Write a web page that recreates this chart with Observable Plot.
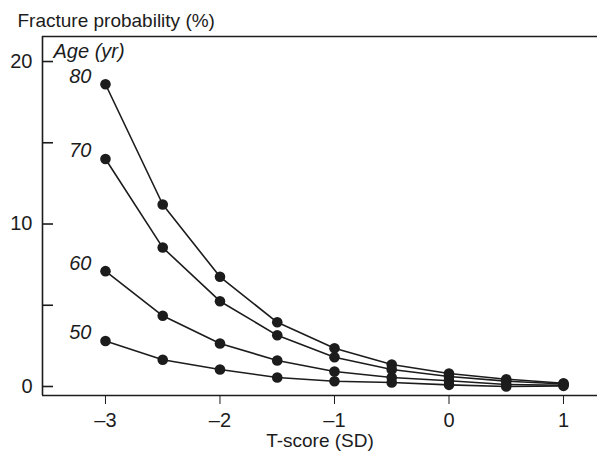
<!DOCTYPE html>
<html>
<head>
<meta charset="utf-8">
<script src="https://cdn.jsdelivr.net/npm/d3@7"></script>
<script src="https://cdn.jsdelivr.net/npm/@observablehq/plot@0.6"></script>
<style>
  html, body { margin: 0; padding: 0; background: #fff; }
</style>
</head>
<body>
<div id="chart"></div>
<script>
// T-score (SD) values
const tScores = [-3, -2.5, -2, -1.5, -1, -0.5, 0, 0.5, 1];
// Fracture probability (%) by age group
const ages = ["80", "70", "60", "50"];
const age80 = [18.6, 11.2, 6.75, 3.95, 2.35, 1.35, 0.8, 0.45, 0.2];
const age70 = [14.0, 8.55, 5.25, 3.15, 1.8, 1.05, 0.62, 0.33, 0.15];
const age60 = [7.1, 4.35, 2.65, 1.6, 0.92, 0.55, 0.35, 0.12, 0.08];
const age50 = [2.8, 1.65, 1.05, 0.55, 0.32, 0.25, 0.1, 0.0, 0.04];
const xTicks = [-3, -2, -1, 0, 1];
const yLabelTicks = [0, 10, 20];
const yMinorTicks = [0, 5, 10, 15, 20];
const xDomain = [-3.55, 1.297];
const yDomain = [-0.554, 21.54];

const series = [age80, age70, age60, age50];
const data = [];
series.forEach((vals, i) => {
  vals.forEach((v, j) => data.push({age: ages[i], t: tScores[j], p: v}));
});
const firstPoints = data.filter(d => d.t === tScores[0]);

const ink = "#1c1c1c";
const fmt = d => d < 0 ? "\u2013" + Math.abs(d) : String(d);

const chart = Plot.plot({
  width: 597,
  height: 452,
  marginLeft: 42,
  marginRight: 0,
  marginTop: 36,
  marginBottom: 57,
  style: {
    fontFamily: "'Liberation Sans', Arial, Helvetica, sans-serif",
    fontSize: "20px",
    color: ink,
    background: "#fff",
    overflow: "visible"
  },
  x: {domain: xDomain},
  y: {domain: yDomain},
  marks: [
    // frame: left, top, bottom
    Plot.ruleX([xDomain[0]], {stroke: ink, strokeWidth: 1.6}),
    Plot.ruleY([yDomain[1]], {stroke: ink, strokeWidth: 1.6}),
    Plot.ruleY([yDomain[0]], {stroke: ink, strokeWidth: 1.6}),
    // x axis
    Plot.axisX({ticks: xTicks, tickFormat: fmt, tickSize: 9, tickPadding: 8, tickStrokeWidth: 1.6, stroke: ink, label: null, fontSize: 20}),
    // y axis labels
    Plot.axisY({ticks: yLabelTicks, tickSize: 0, tickPadding: 10, label: null, fontSize: 20}),
    // y axis inward ticks
    Plot.axisY({ticks: yMinorTicks, tickSize: 11, dx: 11, text: null, label: null, stroke: ink, strokeWidth: 1.6}),
    // lines and dots
    Plot.line(data, {x: "t", y: "p", z: "age", stroke: ink, strokeWidth: 1.6}),
    Plot.dot(data, {x: "t", y: "p", r: 5.3, fill: ink, stroke: "none"}),
    // age labels
    Plot.text(firstPoints, {x: "t", y: "p", text: "age", textAnchor: "end", dx: -14, dy: -8, fontStyle: "italic", fontSize: 20, fill: ink}),
    Plot.text(["Age (yr)"], {frameAnchor: "top-left", textAnchor: "start", lineAnchor: "top", dx: 11, dy: 7, fontStyle: "italic", fontSize: 20, fill: ink}),
    // axis titles
    Plot.text(["Fracture probability (%)"], {frameAnchor: "top-left", textAnchor: "start", lineAnchor: "middle", dx: -25, dy: -15.5, fontSize: 19, fill: ink}),
    Plot.text(["T-score (SD)"], {frameAnchor: "bottom", textAnchor: "middle", lineAnchor: "middle", dy: 45, fontSize: 19, fill: ink})
  ]
});
document.getElementById("chart").appendChild(chart);
</script>
</body>
</html>
